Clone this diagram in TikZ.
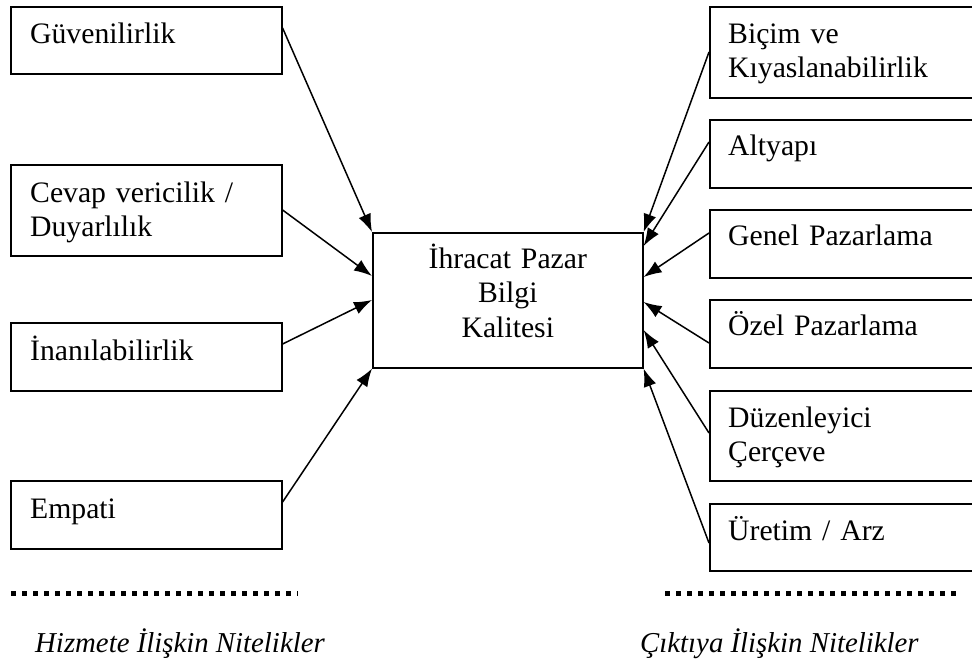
\documentclass[tikz,border=0pt]{standalone}
\usepackage{fontspec}
\setmainfont{Liberation Serif}
\usetikzlibrary{arrows.meta}

\tikzset{
  box/.style={draw, line width=1.6pt, rectangle, inner sep=0pt, anchor=north west},
  lbl/.style={inner sep=0pt, anchor=base west, text width=250pt, align=left,
              font=\fontsize{29.7}{34.5}\selectfont},
  ctr/.style={inner sep=0pt, anchor=base, text width=260pt, align=center,
              font=\fontsize{29.7}{34.5}\selectfont},
  caption/.style={inner sep=0pt, anchor=base west,
                  font=\fontsize{28.8}{34}\selectfont\itshape},
  feed/.style={line width=1.5pt, -{Latex[length=18pt,width=13pt]}},
  dotrule/.style={line width=5pt, dash pattern=on 5pt off 6pt}
}

\begin{document}
\begin{tikzpicture}[x=1pt, y=-1pt]
  \useasboundingbox (0,0) rectangle (972,662);
  \clip (0,0) rectangle (972,662);

  % central quality box
  \node[box, minimum width=270pt, minimum height=135pt] (c) at (372,232) {};
  \node[ctr] (ct) at (c.north |- 0,268) {İhracat Pazar\\Bilgi\\Kalitesi};

  % service-related attributes (left column)
  \node[box, minimum width=271pt, minimum height=67pt] (g)  at (10,6)   {};
  \node[box, minimum width=271pt, minimum height=91pt] (cv) at (10,164) {};
  \node[box, minimum width=271pt, minimum height=68pt] (in) at (10,322) {};
  \node[box, minimum width=271pt, minimum height=68pt] (em) at (10,480) {};

  \node[lbl] (gt)  at (30,43)  {Güvenilirlik};
  \node[lbl] (cvt) at (30,202) {Cevap vericilik /\\Duyarlılık};
  \node[lbl] (int) at (30,360) {İnanılabilirlik};
  \node[lbl] (emt) at (30,518) {Empati};

  % output-related attributes (right column, running off the edge)
  \node[box, minimum width=280pt, minimum height=91pt] (bk) at (709,6)   {};
  \node[box, minimum width=280pt, minimum height=68pt] (al) at (709,119) {};
  \node[box, minimum width=280pt, minimum height=68pt] (gp) at (709,209) {};
  \node[box, minimum width=280pt, minimum height=68pt] (op) at (709,299) {};
  \node[box, minimum width=280pt, minimum height=90pt] (dc) at (709,390) {};
  \node[box, minimum width=280pt, minimum height=67pt] (ur) at (709,503) {};

  \node[lbl] (bkt) at (728,43)  {Biçim ve\\Kıyaslanabilirlik};
  \node[lbl] (alt) at (728,155) {Altyapı};
  \node[lbl] (gpt) at (728,245) {Genel Pazarlama};
  \node[lbl] (opt) at (728,335) {Özel Pazarlama};
  \node[lbl] (dct) at (728,427) {Düzenleyici\\Çerçeve};
  \node[lbl] (urt) at (728,540) {Üretim / Arz};

  % arrows into the central box
  \draw[feed] (g.east  |- 0,28)  -- (c.north west);
  \draw[feed] (cv.east |- 0,210) -- (c.west |- 0,276);
  \draw[feed] (in.east |- 0,344) -- (c.west |- 0,300);
  \draw[feed] (em.east |- 0,502) -- (c.south west);

  \draw[feed] (bk.west |- 0,52)  -- (c.north east);
  \draw[feed] (al.west |- 0,142) -- (c.east |- 0,246);
  \draw[feed] (gp.west |- 0,233) -- (c.east |- 0,277);
  \draw[feed] (op.west |- 0,343) -- (c.east |- 0,302);
  \draw[feed] (dc.west |- 0,433) -- (c.east |- 0,330);
  \draw[feed] (ur.west |- 0,543) -- (c.south east);

  % group rules and captions
  \coordinate (l1) at (11,593);
  \coordinate (l2) at (298,593);
  \coordinate (r1) at (665,593);
  \coordinate (r2) at (958,593);
  \draw[dotrule] (l1) -- (l2);
  \draw[dotrule] (r1) -- (r2);

  \node[caption] (hz) at (35,652)  {Hizmete İlişkin Nitelikler};
  \node[caption] (ck) at (640,652) {Çıktıya İlişkin Nitelikler};
\end{tikzpicture}
\end{document}
